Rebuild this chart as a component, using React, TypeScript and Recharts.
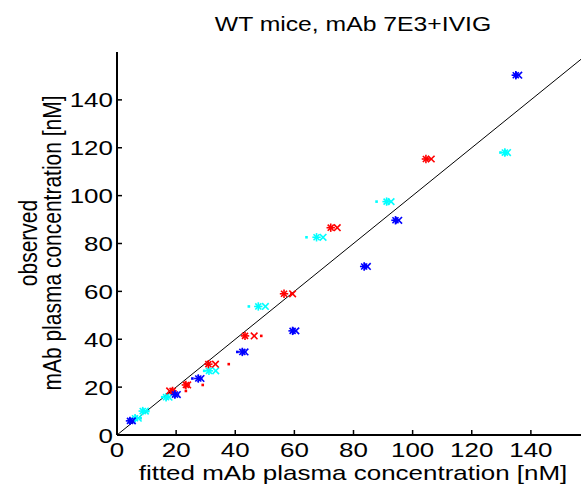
import { ScatterChart, Scatter, XAxis, YAxis, ReferenceLine } from "recharts";

// observed values (y) and three fitted values (x) per observation
const redObs = [115.3, 86.6, 59.0, 41.4, 29.6, 20.9, 18.4];
const redStar = [104.5, 72.3, 56.5, 43.3, 30.9, 23.3, 18.8];
const redCross = [106.3, 74.5, 59.4, 46.4, 33.3, 23.9, 17.8];
const redDot = [105.0, 72.6, 59.0, 48.8, 37.8, 29.0, 23.3];

const blueObs = [150.3, 89.7, 70.4, 43.5, 34.7, 23.6, 16.9, 5.9];
const blueStar = [134.9, 94.2, 83.6, 59.4, 42.4, 27.5, 19.6, 4.4];
const blueCross = [135.9, 95.3, 84.7, 60.5, 43.3, 28.4, 20.4, 5.2];
const blueDot = [134.6, 94.0, 83.4, 59.2, 40.7, 25.5, 19.4, 4.2];

const cyanObs = [118.0, 97.5, 82.6, 53.7, 26.8, 15.8, 10.0, 7.0];
const cyanStar = [131.2, 91.2, 67.5, 47.8, 31.1, 16.6, 8.7, 6.1];
const cyanCross = [132.1, 92.7, 69.7, 50.2, 33.4, 17.6, 9.6, 7.2];
const cyanDot = [129.7, 87.8, 64.1, 44.6, 29.5, 15.3, 10.6, 8.0];

const xTicks = [0, 20, 40, 60, 80, 100, 120, 140];
const yTicks = [0, 20, 40, 60, 80, 100, 120, 140];

const SX = 1.237;
const FONT = "'Liberation Sans', Arial, sans-serif";

const pts = (xs: number[], ys: number[]) => xs.map((x, i) => ({ x, y: ys[i] }));

const Star = (p: any) => {
  const { cx, cy, fill } = p;
  const r = 4.2;
  const d = r * 0.72;
  return (
    <g stroke={fill} strokeWidth={1.6}>
      <line x1={cx - r} y1={cy} x2={cx + r} y2={cy} />
      <line x1={cx} y1={cy - r} x2={cx} y2={cy + r} />
      <line x1={cx - d} y1={cy - d} x2={cx + d} y2={cy + d} />
      <line x1={cx - d} y1={cy + d} x2={cx + d} y2={cy - d} />
    </g>
  );
};

const Cross = (p: any) => {
  const { cx, cy, fill } = p;
  const r = 3.3;
  return (
    <g stroke={fill} strokeWidth={1.6}>
      <line x1={cx - r} y1={cy - r} x2={cx + r} y2={cy + r} />
      <line x1={cx - r} y1={cy + r} x2={cx + r} y2={cy - r} />
    </g>
  );
};

const Dot = (p: any) => {
  const { cx, cy, fill } = p;
  return <rect x={cx - 1.3} y={cy - 1.3} width={2.6} height={2.6} fill={fill} />;
};

const BottomTick = (p: any) => {
  const { x, y, payload } = p;
  return (
    <g>
      <line x1={x} y1={y} x2={x} y2={y - 5} stroke="#000" strokeWidth={1.5} />
      <text
        transform={`translate(${x},${y + 5}) scale(${SX},1)`}
        textAnchor="middle"
        dy="0.8em"
        fontSize={21}
        fontFamily={FONT}
        fill="#000"
      >
        {payload.value}
      </text>
    </g>
  );
};

const TopTick = (p: any) => {
  const { x, y } = p;
  return <line x1={x} y1={y} x2={x} y2={y + 5} stroke="#000" strokeWidth={1.5} />;
};

const LeftTick = (p: any) => {
  const { x, y, payload } = p;
  return (
    <g>
      <line x1={x} y1={y} x2={x + 5} y2={y} stroke="#000" strokeWidth={1.5} />
      <text
        transform={`translate(${x - 4},${y}) scale(${SX},1)`}
        textAnchor="end"
        dy="0.36em"
        fontSize={21}
        fontFamily={FONT}
        fill="#000"
      >
        {payload.value}
      </text>
    </g>
  );
};

const series = [
  { data: pts(blueDot, blueObs), color: "#0000ff", shape: Dot },
  { data: pts(redDot, redObs), color: "#ff0000", shape: Dot },
  { data: pts(cyanDot, cyanObs), color: "#00ffff", shape: Dot },
  { data: pts(cyanCross, cyanObs), color: "#00ffff", shape: Cross },
  { data: pts(cyanStar, cyanObs), color: "#00ffff", shape: Star },
  { data: pts(redCross, redObs), color: "#ff0000", shape: Cross },
  { data: pts(redStar, redObs), color: "#ff0000", shape: Star },
  { data: pts(blueCross, blueObs), color: "#0000ff", shape: Cross },
  { data: pts(blueStar, blueObs), color: "#0000ff", shape: Star },
];

const axisStyle = { stroke: "#000", strokeWidth: 2 };

export default function App() {
  return (
    <div
      style={{
        position: "absolute",
        left: 0,
        top: 0,
        width: 581,
        height: 493,
        overflow: "hidden",
        background: "#fff",
      }}
    >
      <ScatterChart width={600} height={493} margin={{ top: 52, right: 10, bottom: 0, left: 0 }}>
        <XAxis
          xAxisId="b"
          type="number"
          dataKey="x"
          domain={[0, 160]}
          ticks={xTicks}
          interval={0}
          height={58}
          tickSize={0}
          tickMargin={0}
          axisLine={axisStyle}
          tickLine={false}
          tick={BottomTick}
          allowDataOverflow
        />
        <XAxis
          xAxisId="t"
          orientation="top"
          type="number"
          dataKey="x"
          domain={[0, 160]}
          ticks={xTicks}
          interval={0}
          height={0}
          tickSize={0}
          tickMargin={0}
          axisLine={axisStyle}
          tickLine={false}
          tick={TopTick}
          allowDataOverflow
        />
        <YAxis
          type="number"
          dataKey="y"
          domain={[0, 160]}
          ticks={yTicks}
          interval={0}
          width={117}
          tickSize={0}
          tickMargin={0}
          axisLine={axisStyle}
          tickLine={false}
          tick={LeftTick}
          allowDataOverflow
        />
        <ReferenceLine
          xAxisId="b"
          segment={[
            { x: 0, y: 0 },
            { x: 160, y: 160 },
          ]}
          stroke="#000"
          strokeWidth={1}
        />
        {series.map((s, i) => (
          <Scatter
            key={i}
            xAxisId="b"
            data={s.data}
            fill={s.color}
            shape={s.shape}
            isAnimationActive={false}
          />
        ))}
      </ScatterChart>
      <svg
        width={581}
        height={493}
        style={{ position: "absolute", left: 0, top: 0, pointerEvents: "none" }}
        fontFamily={FONT}
        fontSize={21}
        fill="#000"
      >
        <text transform={`translate(353,31) scale(${SX},1)`} textAnchor="middle" fontSize={20}>
          WT mice, mAb 7E3+IVIG
        </text>
        <text transform={`translate(353,480) scale(${SX},1)`} textAnchor="middle">
          fitted mAb plasma concentration [nM]
        </text>
        <text transform={`translate(37,243) scale(${SX},1) rotate(-90)`} textAnchor="middle">
          observed
        </text>
        <text transform={`translate(61,243) scale(${SX},1) rotate(-90)`} textAnchor="middle">
          mAb plasma concentration [nM]
        </text>
      </svg>
    </div>
  );
}
